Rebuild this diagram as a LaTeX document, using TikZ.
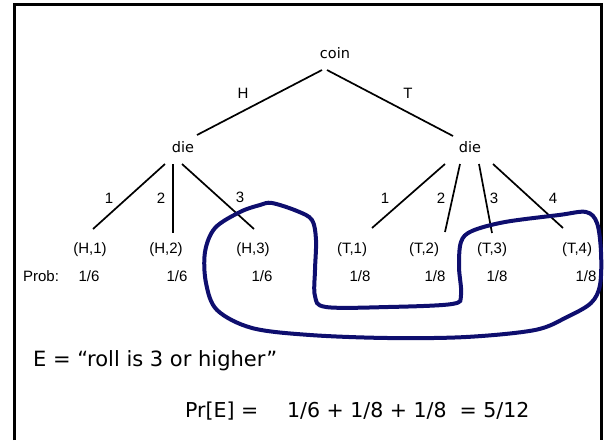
\documentclass[tikz,border=0pt]{standalone}
\usepackage{fontspec}
\setmainfont{Liberation Sans}
\newfontfamily\comic{DejaVu Sans}
\definecolor{loopblue}{RGB}{14,14,110}
\begin{document}
\begin{tikzpicture}[x=1pt,y=-1pt,
  treenode/.style={font=\comic\fontsize{14.5}{16}\selectfont, inner sep=0pt},
  lbl/.style={font=\fontsize{15}{17}\selectfont, inner sep=0pt},
  leaf/.style={font=\fontsize{15}{17}\selectfont, inner sep=0pt},
  probtxt/.style={font=\fontsize{15}{17}\selectfont, inner sep=0pt},
  bigtxt/.style={font=\comic\fontsize{21}{24}\selectfont, inner sep=0pt},
  sumtxt/.style={font=\comic\fontsize{20.5}{24}\selectfont, inner sep=0pt},
  branch/.style={line width=1.7pt},
  frame/.style={line width=3pt},
  loop/.style={draw=loopblue, line width=4pt}]
\useasboundingbox (0,0) rectangle (607,440);
\draw[frame] (14,440) -- (14,4) -- (601,4) -- (601,440);

% tree nodes
\node[treenode] (coin) at (335,53) {coin};
\node[treenode] (dieL) at (183,147) {die};
\node[treenode] (dieR) at (470,147) {die};

% leaves
\node[leaf] (H1) at (90,250) {(H,1)};
\node[leaf] (H2) at (166,250) {(H,2)};
\node[leaf] (H3) at (253,250) {(H,3)};
\node[leaf] (T1) at (352,250) {(T,1)};
\node[leaf] (T2) at (424,250) {(T,2)};
\node[leaf] (T3) at (492,250) {(T,3)};
\node[leaf] (T4) at (577,250) {(T,4)};

% edges
\draw[branch] ([shift={(-13,17)}]coin.center) -- ([shift={(14,-12)}]dieL.center);
\draw[branch] ([shift={(-8,17)}]coin.center) -- ([shift={(-17,-11)}]dieR.center);
\draw[branch] ([shift={(-18,17)}]dieL.center) -- ([shift={(3,-21)}]H1.center);
\draw[branch] ([shift={(-10,17)}]dieL.center) -- ([shift={(7,-17)}]H2.center);
\draw[branch] ([shift={(-1,17)}]dieL.center) -- ([shift={(1,-21)}]H3.center);
\draw[branch] ([shift={(-25,17)}]dieR.center) -- ([shift={(20,-22)}]T1.center);
\draw[branch] ([shift={(-10,17)}]dieR.center) -- ([shift={(21,-18)}]T2.center);
\draw[branch] ([shift={(9,17)}]dieR.center) -- ([shift={(0,-17)}]T3.center);
\draw[branch] ([shift={(23,17)}]dieR.center) -- ([shift={(-14,-22)}]T4.center);

% edge labels
\node[lbl] (lH) at (243,93) {H};
\node[lbl] (lT) at (408,93) {T};
\node[lbl] (l1) at (109,198) {1};
\node[lbl] (l2) at (161,198) {2};
\node[lbl] (l3) at (240,197) {3};
\node[lbl] (r1) at (385,198) {1};
\node[lbl] (r2) at (441,198) {2};
\node[lbl] (r3) at (494,198) {3};
\node[lbl] (r4) at (553,198) {4};

% probabilities
\node[probtxt] (prob) at (41,276) {Prob:};
\node[probtxt] (p1) at (89,276) {1/6};
\node[probtxt] (p2) at (177,276) {1/6};
\node[probtxt] (p3) at (262,276) {1/6};
\node[probtxt] (p4) at (360,276) {1/8};
\node[probtxt] (p5) at (435,276) {1/8};
\node[probtxt] (p6) at (497,276) {1/8};
\node[probtxt] (p7) at (586,276) {1/8};

% event loop
\draw[loop] plot[smooth cycle, tension=0.55] coordinates {
 (272,203) (297,211) (312,220) (316,240) (315,270) (315,296) (326,307)
 (388,307) (452,304) (461,295) (459,267) (461,242) (472,231) (505,222)
 (559,215) (586,212) (597,223) (601,252) (600,285) (591,303) (567,317)
 (535,330) (466,337) (388,338) (310,335) (252,328) (217,310) (206,283)
 (205,252) (215,228) (240,212) (260,205)};

% bottom text
\node[bigtxt, anchor=base west] (E) at (33,366) {E = “roll is 3 or higher”};
\node[sumtxt, anchor=base west] (PrE) at (185,417) {Pr[E] =};
\node[sumtxt, anchor=base west] (sum) at (287,417) {1/6 + 1/8 + 1/8\ \ = 5/12};
\end{tikzpicture}
\end{document}
